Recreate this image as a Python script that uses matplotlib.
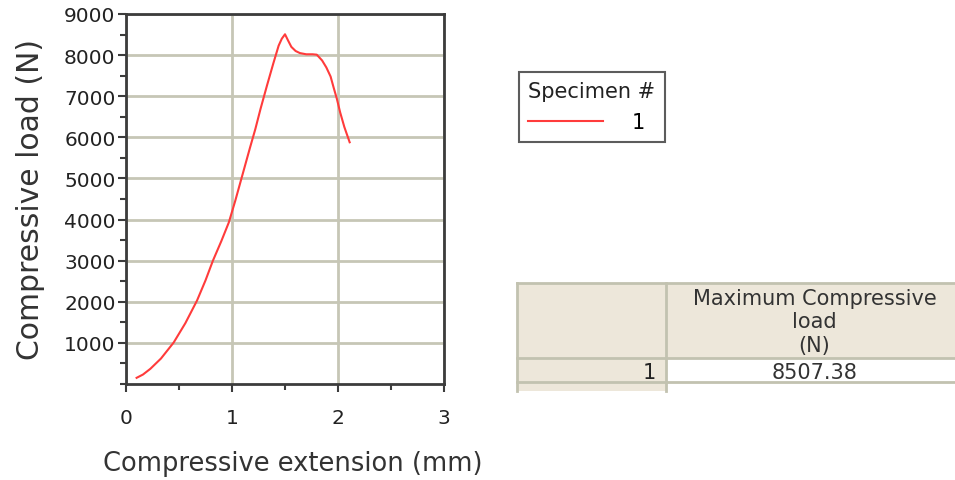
import numpy as np
import matplotlib.pyplot as plt
from matplotlib.patches import Rectangle

# curve
ext = [0.10, 0.16, 0.23, 0.33, 0.45, 0.56, 0.67, 0.75, 0.82, 0.90, 0.97,
       1.03, 1.10, 1.17, 1.22, 1.27, 1.33, 1.39, 1.44, 1.47, 1.50, 1.53,
       1.56, 1.60, 1.64, 1.70, 1.76, 1.80, 1.85, 1.89, 1.93, 1.96, 1.99,
       2.02, 2.06, 2.11]
load = [150, 230, 370, 620, 1010, 1480, 2030, 2520, 3000, 3480, 3930,
        4450, 5100, 5750, 6200, 6700, 7260, 7800, 8230, 8400, 8507, 8350,
        8200, 8100, 8050, 8020, 8020, 8010, 7870, 7700, 7480, 7200, 6930,
        6610, 6250, 5880]

specimens = ['1']
max_load = [8507.38]
col_header = 'Maximum Compressive\nload\n(N)'

red = '#ff3b3b'
grid_c = '#c6c6b6'
spine_c = '#3c3c3c'
beige = '#ede7da'
border = '#c2c2b0'

fig = plt.figure(figsize=(9.55, 4.81), dpi=100)
ax = fig.add_axes([126 / 955, 96 / 481, 318 / 955, 370 / 481])

ax.plot(ext, load, color=red, lw=1.5, label=specimens[0])
ax.set_xlim(0, 3)
ax.set_ylim(0, 9000)
ax.set_xticks([0, 1, 2, 3])
ax.set_xticks(np.arange(0, 3.01, 0.5), minor=True)
ax.set_yticks(np.arange(1000, 9001, 1000))
ax.set_yticks(np.arange(0, 9001, 500), minor=True)
ax.grid(True, which='major', color=grid_c, lw=2)
ax.set_axisbelow(True)
for s in ax.spines.values():
    s.set_color(spine_c)
    s.set_linewidth(2)
ax.tick_params(which='both', direction='out', color=spine_c, width=1.5,
               labelsize=14.5, labelcolor='#222222')
ax.tick_params(which='major', length=5.5)
ax.tick_params(which='minor', length=4.5)
ax.tick_params(axis='x', pad=12)
ax.tick_params(axis='y', pad=2)
ax.set_xlabel('Compressive extension (mm)', fontsize=18.5, color='#333333')
ax.xaxis.set_label_coords((293 - 126) / 318, -(451 - 385) / 370)
ax.set_ylabel('Compressive load (N)', fontsize=21.5, color='#333333',
              labelpad=14)

leg = ax.legend(title='Specimen #', loc='upper left',
                bbox_to_anchor=(519 / 955, 1 - 73 / 481),
                bbox_transform=fig.transFigure, fancybox=False,
                edgecolor='#333333', fontsize=15, title_fontsize=15,
                handlelength=3.6, handletextpad=1.35, borderpad=0.45,
                borderaxespad=0)
leg.get_frame().set_linewidth(1.5)
leg.get_title().set_color('#222222')
leg._legend_box.align = 'left'
leg._legend_box.sep = 8

# results table drawn in pixel coordinates of the figure
tab = fig.add_axes([0, 0, 1, 1], zorder=-1)
tab.set_xlim(0, 955)
tab.set_ylim(481, 0)
tab.axis('off')
x0, x1, x2 = 517, 666, 955
y0, y1, y2, y3 = 284, 359, 383, 392
tab.add_patch(Rectangle((x0, y0), x2 - x0, y1 - y0, fc=beige, ec='none'))
tab.add_patch(Rectangle((x0, y1), x1 - x0, y3 - y1, fc=beige, ec='none'))
tab.add_patch(Rectangle((x1, y1), x2 - x1, y2 - y1, fc='white', ec='none'))
for yy in [y0, y1, y2]:
    tab.plot([x0, x2], [yy, yy], color=border, lw=2)
tab.plot([x0, x0], [y0, y3], color=border, lw=2)
tab.plot([x1, x1], [y0, y3], color=border, lw=2)
tab.text((x1 + x2) / 2 + 4, (y0 + y1) / 2 + 1, col_header, ha='center',
         va='center', fontsize=15, color='#333333', linespacing=1.2)
for sp, val in zip(specimens, max_load):
    tab.text(x1 - 10, (y1 + y2) / 2 + 2, sp, ha='right', va='center',
             fontsize=15, color='#222222')
    tab.text((x1 + x2) / 2 + 4, (y1 + y2) / 2 + 2, f'{val:.2f}',
             ha='center', va='center', fontsize=15, color='#333333')

fig.savefig('out.png', dpi=100)
